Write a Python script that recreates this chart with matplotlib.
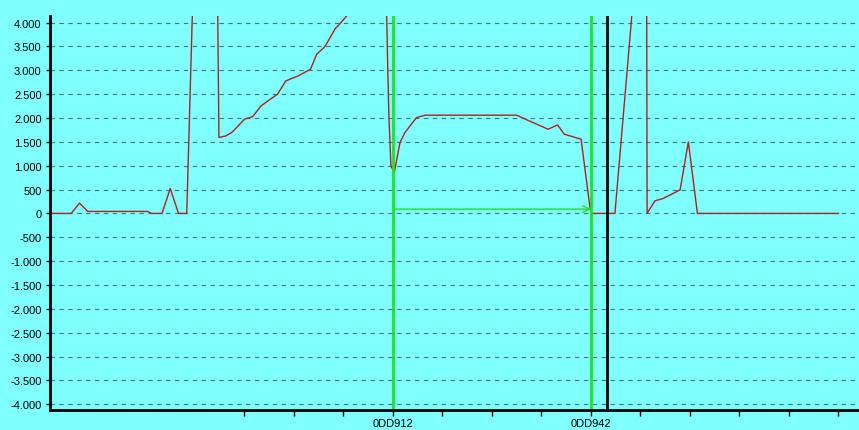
import matplotlib
matplotlib.use("Agg")
from matplotlib import pyplot as plt
from matplotlib.ticker import FuncFormatter
import numpy as np

# addresses are offsets from 0DD912 (hex)
base = 0xDD912
offsets = [-83, -78, -76, -74, -59.5, -58.5, -56, -54, -52, -50, -48.6,
           -42.5, -42.2, -40.5, -39, -36, -34, -32, -30, -28, -26, -25, -23,
           -20, -18.5, -16.5, -14, -13, -11, -8, -1.6, -1.3, -1, -0.5, 0.3,
           1.7, 2.9, 5.7, 7.8, 30, 32.5, 37.6, 39.9, 41.5, 45.6, 47.8, 48.2,
           53.8, 58.2, 61.5, 61.6, 63.5, 65.5, 69.6, 71.6, 73.8, 108]
values = [0, 0, 216, 42, 42, 0, 0, 524, 0, 0, 4300,
          4300, 1592, 1625, 1703, 1975, 2031, 2253, 2379, 2498, 2777, 2812, 2882,
          3022, 3336, 3497, 3874, 3964, 4160, 4500, 4400, 3169, 2044, 997, 859,
          1487, 1696, 2010, 2059, 2059, 1960, 1765, 1856, 1661, 1556, 90, 0,
          0, 4450, 4450, 0, 264, 314, 494, 1499, 0, 0]

cursor_a = 0      # 0DD912
cursor_b = 48     # 0DD942
marker_pos = 52
arrow_level = 90
labelled = [0, 48]
yticks = list(range(-4000, 4001, 500))

bg = "#80FFFF"
fig = plt.figure(figsize=(8.59, 4.31), dpi=100, facecolor=bg)
ax = fig.add_axes([50 / 859, 20 / 431, 809 / 859, 394 / 431])
ax.set_facecolor(bg)

x = base + np.array(offsets)
ax.plot(x, values, color="#B02020", lw=1)

ax.axvline(base + cursor_a, color="#22E022", lw=2)
ax.axvline(base + cursor_b, color="#22E022", lw=2)
ax.axvline(base + marker_pos, color="black", lw=2)
ax.annotate("", xy=(base + cursor_b, arrow_level), xytext=(base + cursor_a, arrow_level),
            arrowprops=dict(arrowstyle="->,head_length=0.5,head_width=0.25",
                            color="#22E022", lw=1, shrinkA=0, shrinkB=0))

ax.set_xlim(base - 83.15, base + 112.97)
ax.set_ylim(-4120, 4138)

ax.set_yticks(yticks)
ax.yaxis.set_major_formatter(FuncFormatter(lambda v, p: f"{int(v):,}".replace(",", ".")))
ax.grid(axis="y", color="#3A7A7A", linestyle=(0, (4, 4)), lw=0.8)

ax.set_xticks([base + o for o in labelled])
ax.xaxis.set_major_formatter(FuncFormatter(lambda v, p: f"{int(round(v)):06X}"))
ax.set_xticks([base + o for o in range(-36, 113, 12)], minor=True)
ax.tick_params(axis="x", which="both", length=4, width=1, direction="out", pad=2,
               labelsize=8)
ax.tick_params(axis="y", length=3, width=1, direction="out", pad=3, labelsize=8)
for lab in ax.get_xticklabels() + ax.get_yticklabels():
    lab.set_family("Liberation Sans")

for s in ["top", "right"]:
    ax.spines[s].set_visible(False)
ax.spines["left"].set_linewidth(2)
ax.spines["bottom"].set_linewidth(2)

fig.savefig("out.png", dpi=100, facecolor=bg)
